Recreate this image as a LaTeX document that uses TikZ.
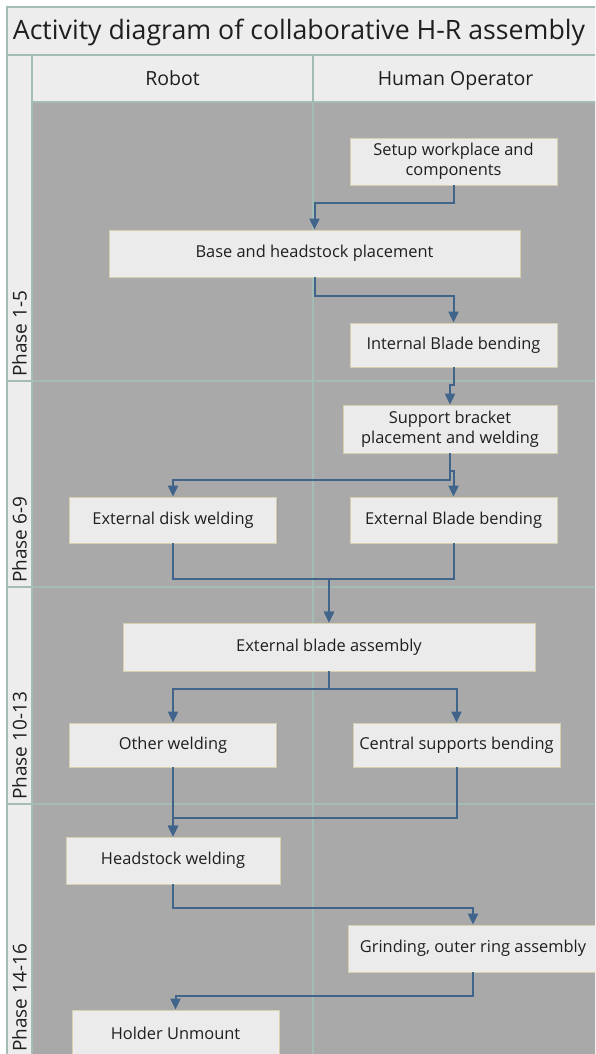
\documentclass[tikz,border=0pt]{standalone}
\usepackage{fontspec}
\setmainfont{Open Sans}
\usetikzlibrary{arrows.meta,shadows}
\definecolor{laneline}{HTML}{A3BDB6}
\definecolor{paneback}{HTML}{EDEDED}
\definecolor{laneback}{HTML}{A9A9A9}
\definecolor{boxfill}{HTML}{EBEBEB}
\definecolor{boxline}{HTML}{D6CFB0}
\definecolor{flowblue}{HTML}{41658A}
\tikzset{activity/.style={fill=boxfill, draw=boxline, line width=0.8pt, inner sep=2pt, align=center,
           text=black!88, font=\fontsize{16.4}{20}\selectfont,
           drop shadow={opacity=0.2, shadow xshift=1pt, shadow yshift=-1pt}},
         flow/.style={draw=flowblue, line width=2pt, -{Triangle[length=11pt,width=10pt]}},
         gridline/.style={draw=laneline, line width=1.2pt},
         lanehead/.style={anchor=base, text=black!88, font=\fontsize{19.5}{23}\selectfont},
         phase/.style={rotate=90, anchor=west, inner sep=0pt, text=black!88, font=\fontsize{19}{22}\selectfont}}

\begin{document}
\begin{tikzpicture}[x=1pt,y=-1pt]
  \useasboundingbox (0,0) rectangle (595,1054);
  \clip (0,0) rectangle (595,1054);
  \fill[white] (0,0) rectangle (595,1054);
  \fill[paneback] (7,7) rectangle (598,1070);
  \fill[laneback] (32,102) rectangle (598,1070);
  \draw[gridline] (7,7) rectangle (598,1070);
  \draw[gridline] (7,55) -- (598,55) (32,102) -- (598,102);
  \draw[gridline] (32,55) -- (32,1070) (313,55) -- (313,1070);
  \foreach \y in {381,587,804}
    \draw[gridline] (7,\y) -- (598,\y);
  \node[anchor=base, text=black!88, font=\fontsize{26.7}{30}\selectfont] (title) at (299,40) {Activity diagram of collaborative H-R assembly};
  \node[lanehead] (robot) at (172.5,86) {Robot};
  \node[lanehead] (human) at (455.5,86) {Human Operator};
  \foreach \lbl/\yb in {Phase 1-5/381, Phase 6-9/587, Phase 10-13/804, Phase 14-16/1056}
    \node[phase] (p\yb) at (19.5,\yb-4) {\lbl};

  \node[activity, minimum width=207pt, minimum height=47pt] (setup) at (453.5,161.5) {Setup workplace and\\components};
  \node[activity, minimum width=411pt, minimum height=47pt] (base) at (314.5,253.5) {Base and headstock placement};
  \node[activity, minimum width=207pt, minimum height=44pt] (internal) at (453.5,345) {Internal Blade bending};
  \node[activity, minimum width=214pt, minimum height=48pt] (support) at (450,429) {Support bracket\\placement and welding};
  \node[activity, minimum width=207pt, minimum height=46pt] (extdisk) at (173,520) {External disk welding};
  \node[activity, minimum width=207pt, minimum height=46pt] (extblade) at (453.5,520) {External Blade bending};
  \node[activity, minimum width=412pt, minimum height=48pt] (assembly) at (329,647) {External blade assembly};
  \node[activity, minimum width=207pt, minimum height=44pt] (other) at (173,745) {Other welding};
  \node[activity, minimum width=207pt, minimum height=44pt] (central) at (456.5,745) {Central supports bending};
  \node[activity, minimum width=214pt, minimum height=47pt] (headstock) at (173,860.5) {Headstock welding};
  \node[activity, minimum width=250pt, minimum height=47pt] (grinding) at (473,948.5) {Grinding, outer ring assembly};
  \node[activity, minimum width=207pt, minimum height=47pt] (holder) at (175.5,1033.5) {Holder Unmount};

  \draw[flow] (setup.south) -- ++(0,18) -| (base.north);
  \draw[flow] (base.south) -- ++(0,19) -| (internal.north);
  \draw[flow] (internal.south) -- ++(0,18) -| (support.north);
  \draw[flow] (support.south) -- ++(0,27) -| (extdisk.north);
  \draw[flow] (support.south) -- ++(0,18) -| (extblade.north);
  \draw[flow] (extdisk.south) -- ++(0,36) -| (assembly.north);
  \draw[flow] (extblade.south) -- ++(0,36) -| (assembly.north);
  \draw[flow] (assembly.south) -- ++(0,18) -| (other.north);
  \draw[flow] (assembly.south) -- ++(0,18) -| (central.north);
  \draw[flow] (other.south) -- (headstock.north);
  \draw[flow] (central.south) -- ++(0,51) -| (headstock.north);
  \draw[flow] (headstock.south) -- ++(0,24) -| (grinding.north);
  \draw[flow] (grinding.south) -- ++(0,24) -| (holder.north);
\end{tikzpicture}
\end{document}
